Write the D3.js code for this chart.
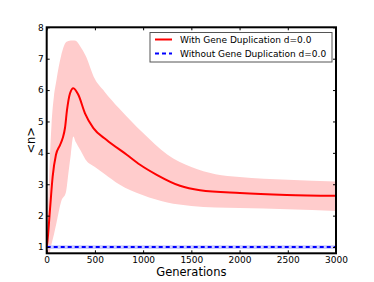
<!DOCTYPE html>
<html>
<head>
<meta charset="utf-8">
<script src="https://cdn.jsdelivr.net/npm/d3@7"></script>
<style>
  html, body { margin: 0; padding: 0; background: #fff; }
  svg { display: block; font-family: "DejaVu Sans", sans-serif; }
</style>
</head>
<body>
<svg id="chart" width="374" height="282"></svg>
<script>
// mean <n> with gene duplication
const meanGen = [0, 6, 34, 62, 96, 138, 166, 190, 210, 242, 276, 328, 397, 484, 622, 830, 968, 1141, 1382, 1590, 2004, 2489, 3000];
const meanVal = [1.0, 1.13, 2.19, 3.25, 3.94, 4.25, 4.47, 4.8, 5.35, 5.9, 6.06, 5.85, 5.26, 4.79, 4.41, 3.94, 3.62, 3.30, 2.95, 2.81, 2.72, 2.66, 2.63];

// shaded band around the mean (upper / lower edge)
const bandGen = [0, 25, 50, 75, 100, 150, 200, 225, 250, 276, 300, 350, 400, 500, 600, 750, 1000, 1250, 1500, 1750, 2000, 2500, 3000];
const bandUpper = [1.2, 3.2, 4.9, 5.8, 6.3, 7.1, 7.52, 7.56, 7.58, 7.58, 7.57, 7.38, 7.12, 6.35, 5.95, 5.42, 4.63, 3.95, 3.55, 3.32, 3.23, 3.14, 3.09];
const bandLower = [0.85, 0.8, 1.1, 1.4, 1.75, 2.45, 2.75, 3.35, 3.95, 4.52, 4.35, 4.08, 3.8, 3.55, 3.33, 3.0, 2.65, 2.42, 2.31, 2.26, 2.24, 2.2, 2.15];

// without gene duplication: stays at 1
const flatGen = [0, 3000];
const flatVal = [1, 1];
const flatSpread = 0.06;

const xTicks = [0, 500, 1000, 1500, 2000, 2500, 3000];
const yTicks = [1, 2, 3, 4, 5, 6, 7, 8];
const legendLabels = ["With Gene Duplication d=0.0", "Without Gene Duplication d=0.0"];

const svg = d3.select("#chart");
const margin = { left: 46.7, right: 38, top: 27.3, bottom: 28.7 };
const width = 374, height = 282;

const x = d3.scaleLinear().domain([0, 3000]).range([margin.left, width - margin.right]);
const y = d3.scaleLinear().domain([0.8, 8]).range([height - margin.bottom, margin.top]);

svg.append("defs").append("clipPath").attr("id", "plot")
  .append("rect")
    .attr("x", x(0)).attr("y", y(8))
    .attr("width", x(3000) - x(0)).attr("height", y(0.8) - y(8));

const plot = svg.append("g").attr("clip-path", "url(#plot)");

plot.append("path")
    .datum(bandGen)
    .attr("fill", "#ffcccc")
    .attr("d", d3.area()
      .curve(d3.curveMonotoneX)
      .x(d => x(d))
      .y0((d, i) => y(bandLower[i]))
      .y1((d, i) => y(bandUpper[i])));

plot.append("path")
    .datum(flatGen)
    .attr("fill", "#ccccff")
    .attr("d", d3.area()
      .x(d => x(d))
      .y0((d, i) => y(flatVal[i] - flatSpread))
      .y1((d, i) => y(flatVal[i] + flatSpread)));

plot.append("path")
    .datum(meanGen)
    .attr("fill", "none")
    .attr("stroke", "#ff0000")
    .attr("stroke-width", 2)
    .attr("d", d3.line().curve(d3.curveMonotoneX)
      .x(d => x(d))
      .y((d, i) => y(meanVal[i])));

plot.append("path")
    .datum(flatGen)
    .attr("fill", "none")
    .attr("stroke", "#0000ff")
    .attr("stroke-width", 2)
    .attr("stroke-dasharray", "4,3")
    .attr("d", d3.line()
      .x(d => x(d))
      .y((d, i) => y(flatVal[i])));

// axes with inward ticks on all four sides
const tickLen = 3;
const axisFont = 9;
const fmt = d3.format("d");

svg.append("g")
    .attr("transform", `translate(0,${y(0.8)})`)
    .call(d3.axisBottom(x).tickValues(xTicks).tickFormat(fmt).tickSize(-tickLen).tickPadding(3.5))
    .call(g => g.select(".domain").remove());
svg.append("g")
    .attr("transform", `translate(0,${y(8)})`)
    .call(d3.axisTop(x).tickValues(xTicks).tickSize(-tickLen).tickFormat(""))
    .call(g => g.select(".domain").remove());
svg.append("g")
    .attr("transform", `translate(${x(0)},0)`)
    .call(d3.axisLeft(y).tickValues(yTicks).tickFormat(fmt).tickSize(-tickLen).tickPadding(3))
    .call(g => g.select(".domain").remove());
svg.append("g")
    .attr("transform", `translate(${x(3000)},0)`)
    .call(d3.axisRight(y).tickValues(yTicks).tickSize(-tickLen).tickFormat(""))
    .call(g => g.select(".domain").remove());

svg.selectAll(".tick line").attr("stroke", "#000").attr("stroke-width", 1);
svg.selectAll(".tick text")
    .attr("font-family", "DejaVu Sans")
    .attr("font-size", axisFont)
    .attr("fill", "#000");

// frame
svg.append("rect")
    .attr("x", x(0)).attr("y", y(8))
    .attr("width", x(3000) - x(0)).attr("height", y(0.8) - y(8))
    .attr("fill", "none")
    .attr("stroke", "#000")
    .attr("stroke-width", 2);

// axis titles
svg.append("text")
    .attr("x", (x(0) + x(3000)) / 2)
    .attr("y", 276)
    .attr("text-anchor", "middle")
    .attr("font-size", 11.5)
    .text("Generations");

svg.append("text")
    .attr("transform", `translate(35,${(y(0.8) + y(8)) / 2}) rotate(-90)`)
    .attr("text-anchor", "middle")
    .attr("font-size", 11.5)
    .text("<n>");

// legend
const legend = svg.append("g");
legend.append("rect")
    .attr("x", 150).attr("y", 32.5)
    .attr("width", 182).attr("height", 29.5)
    .attr("fill", "#fff")
    .attr("stroke", "#555")
    .attr("stroke-width", 1);

const legendStyles = [
  { color: "#ff0000", dash: null },
  { color: "#0000ff", dash: "4,3" }
];
legendLabels.forEach((label, i) => {
  const ly = 39.5 + i * 14;
  legend.append("line")
      .attr("x1", 155).attr("x2", 172)
      .attr("y1", ly).attr("y2", ly)
      .attr("stroke", legendStyles[i].color)
      .attr("stroke-width", 2)
      .attr("stroke-dasharray", legendStyles[i].dash);
  legend.append("text")
      .attr("x", 180).attr("y", ly)
      .attr("dy", "0.35em")
      .attr("font-size", 9)
      .text(label);
});
</script>
</body>
</html>
